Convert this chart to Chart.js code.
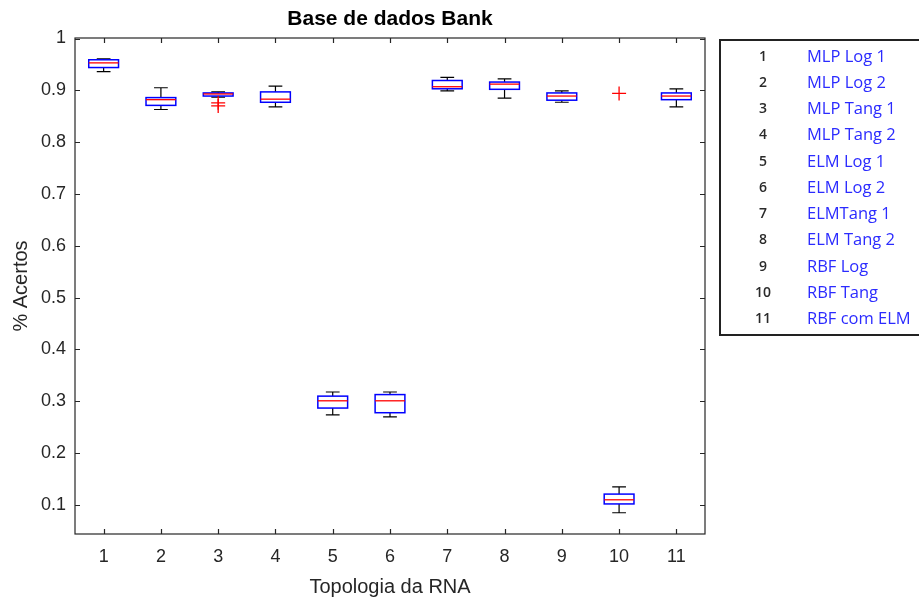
<!DOCTYPE html>
<html>
<head>
<meta charset="utf-8">
<script src="https://cdn.jsdelivr.net/npm/chart.js@4"></script>
<style>
  body { margin: 0; background: #fff; overflow: hidden; }
  #wrap { position: relative; width: 919px; height: 601px; overflow: hidden; }
  #legenda {
    position: absolute; left: 719px; top: 38.5px; width: 220px; height: 297px;
    border: 2px solid #222; box-sizing: border-box; font-family: "Open Sans", sans-serif;
  }
  .linha { position: absolute; left: 0; height: 26px; line-height: 26px; white-space: nowrap; }
  .num { position: absolute; left: 27px; width: 30px; text-align: center; font-size: 14px; font-weight: 600; color: #2a2a2a; }
  .nome { position: absolute; left: 86px; font-size: 16.5px; color: #2b2bff; }
</style>
</head>
<body>
<div id="wrap">
  <canvas id="grafico" width="919" height="601"></canvas>
  <div id="legenda"></div>
</div>
<script>
// posições das caixas (topologias)
var topologias = [1, 2, 3, 4, 5, 6, 7, 8, 9, 10, 11];
var nomes = ['MLP Log 1', 'MLP Log 2', 'MLP Tang 1', 'MLP Tang 2', 'ELM Log 1', 'ELM Log 2',
             'ELMTang 1', 'ELM Tang 2', 'RBF Log', 'RBF Tang', 'RBF com ELM'];

// estatísticas do boxplot
var bigodeSup = [0.961, 0.905, 0.897, 0.908, 0.318, 0.318, 0.925, 0.922, 0.899, 0.135, 0.903];
var quartil3  = [0.959, 0.886, 0.895, 0.897, 0.310, 0.313, 0.919, 0.916, 0.895, 0.121, 0.895];
var mediana   = [0.953, 0.882, 0.893, 0.883, 0.301, 0.301, 0.907, 0.912, 0.889, 0.110, 0.889];
var quartil1  = [0.944, 0.871, 0.889, 0.877, 0.287, 0.278, 0.903, 0.902, 0.881, 0.102, 0.882];
var bigodeInf = [0.936, 0.863, 0.887, 0.868, 0.274, 0.270, 0.899, 0.885, 0.877, 0.085, 0.868];

// outliers
var outlierX = [3, 3, 10];
var outlierY = [0.876, 0.870, 0.894];

var ticksY = [0.1, 0.2, 0.3, 0.4, 0.5, 0.6, 0.7, 0.8, 0.9, 1];

// legenda em html
var leg = document.getElementById('legenda');
nomes.forEach(function (n, i) {
  var d = document.createElement('div');
  d.className = 'linha';
  d.style.top = (2 + i * 26.27) + 'px';
  d.innerHTML = '<span class="num">' + topologias[i] + '</span><span class="nome">' + n + '</span>';
  leg.appendChild(d);
});

var fonte = '"Liberation Sans", Arial, sans-serif';
var cinza = '#262626';

var boxPlugin = {
  id: 'boxplot',
  beforeDatasetsDraw: function (chart) {
    var ctx = chart.ctx, x = chart.scales.x, y = chart.scales.y;
    ctx.save();
    topologias.forEach(function (t, i) {
      var xl = x.getPixelForValue(t - 0.26), xr = x.getPixelForValue(t + 0.26);
      var cl = x.getPixelForValue(t - 0.12), cr = x.getPixelForValue(t + 0.12);
      var xc = x.getPixelForValue(t);
      // bigodes
      ctx.strokeStyle = '#000';
      ctx.lineWidth = 1.2;
      ctx.beginPath();
      ctx.moveTo(xc, y.getPixelForValue(quartil3[i]));
      ctx.lineTo(xc, y.getPixelForValue(bigodeSup[i]));
      ctx.moveTo(cl, y.getPixelForValue(bigodeSup[i]));
      ctx.lineTo(cr, y.getPixelForValue(bigodeSup[i]));
      ctx.moveTo(xc, y.getPixelForValue(quartil1[i]));
      ctx.lineTo(xc, y.getPixelForValue(bigodeInf[i]));
      ctx.moveTo(cl, y.getPixelForValue(bigodeInf[i]));
      ctx.lineTo(cr, y.getPixelForValue(bigodeInf[i]));
      ctx.stroke();
      // caixa
      var yt = y.getPixelForValue(quartil3[i]), yb = y.getPixelForValue(quartil1[i]);
      ctx.fillStyle = '#fff';
      ctx.fillRect(xl, yt, xr - xl, yb - yt);
      ctx.strokeStyle = '#0000ff';
      ctx.lineWidth = 1.5;
      ctx.strokeRect(xl, yt, xr - xl, yb - yt);
      // mediana
      ctx.strokeStyle = '#ff0000';
      ctx.lineWidth = 1.3;
      ctx.beginPath();
      ctx.moveTo(xl, y.getPixelForValue(mediana[i]));
      ctx.lineTo(xr, y.getPixelForValue(mediana[i]));
      ctx.stroke();
    });
    ctx.restore();
  },
  afterDraw: function (chart) {
    var ctx = chart.ctx, a = chart.chartArea, x = chart.scales.x, y = chart.scales.y;
    ctx.save();
    ctx.strokeStyle = cinza;
    ctx.lineWidth = 1.2;
    ctx.strokeRect(a.left, a.top, a.right - a.left, a.bottom - a.top);
    ctx.beginPath();
    x.ticks.forEach(function (t) {
      var p = Math.round(x.getPixelForValue(t.value)) + 0.5;
      ctx.moveTo(p, a.bottom); ctx.lineTo(p, a.bottom - 5);
      ctx.moveTo(p, a.top); ctx.lineTo(p, a.top + 5);
    });
    y.ticks.forEach(function (t) {
      var p = Math.round(y.getPixelForValue(t.value)) + 0.5;
      ctx.moveTo(a.left, p); ctx.lineTo(a.left + 5, p);
      ctx.moveTo(a.right, p); ctx.lineTo(a.right - 5, p);
    });
    ctx.stroke();
    ctx.restore();
  }
};

var ctx = document.getElementById('grafico').getContext('2d');
var chart = new Chart(ctx, {
  type: 'scatter',
  data: {
    datasets: [{
      label: 'outliers',
      data: outlierX.map(function (v, i) { return { x: v, y: outlierY[i] }; }),
      pointStyle: 'cross',
      pointRadius: 7,
      pointBorderWidth: 1.3,
      borderColor: '#ff0000',
      backgroundColor: '#ff0000'
    }]
  },
  options: {
    responsive: false,
    animation: false,
    layout: { padding: { left: 0, top: 0, right: 214, bottom: 0 } },
    plugins: {
      legend: { display: false },
      tooltip: { enabled: false },
      title: {
        display: true,
        text: 'Base de dados Bank',
        fullSize: false,
        color: '#000',
        font: { family: fonte, size: 21, weight: 'bold' },
        padding: { top: 7, bottom: 5.8 }
      }
    },
    scales: {
      x: {
        type: 'linear',
        min: 0.5,
        max: 11.5,
        afterBuildTicks: function (s) { s.ticks = topologias.map(function (v) { return { value: v }; }); },
        afterFit: function (s) { s.height = 67; },
        grid: { display: false, drawTicks: false },
        border: { display: false },
        ticks: { color: cinza, font: { family: fonte, size: 18 }, padding: 12, maxRotation: 0, autoSkip: false },
        title: {
          display: true,
          text: 'Topologia da RNA',
          color: cinza,
          font: { family: fonte, size: 20 },
          padding: { top: 0, bottom: 2 }
        }
      },
      y: {
        min: 0.044,
        max: 1.001,
        afterBuildTicks: function (s) { s.ticks = ticksY.map(function (v) { return { value: v }; }); },
        afterFit: function (s) { s.width = 75; },
        grid: { display: false, drawTicks: false },
        border: { display: false },
        ticks: {
          color: cinza,
          font: { family: fonte, size: 18 },
          padding: 9,
          callback: function (v) { return String(v); }
        },
        title: {
          display: true,
          text: '% Acertos',
          color: cinza,
          font: { family: fonte, size: 20 },
          padding: { top: 9, bottom: 0 }
        }
      }
    }
  },
  plugins: [boxPlugin]
});
</script>
</body>
</html>
